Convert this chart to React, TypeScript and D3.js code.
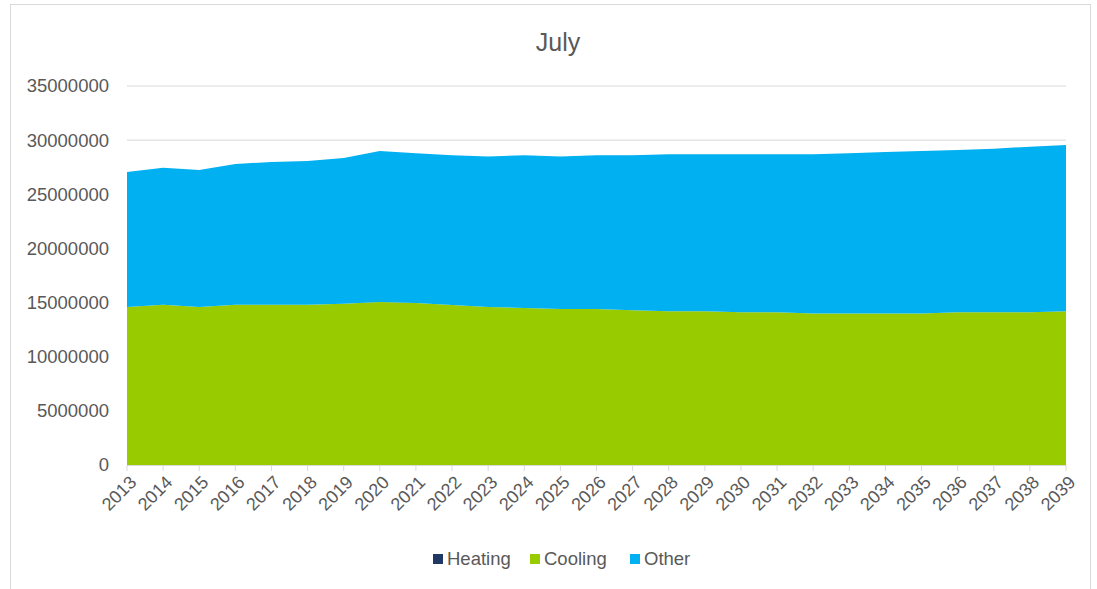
import React, { useEffect, useRef } from 'react';
import * as d3 from 'd3';

const years = [2013, 2014, 2015, 2016, 2017, 2018, 2019, 2020, 2021, 2022, 2023, 2024, 2025, 2026,
  2027, 2028, 2029, 2030, 2031, 2032, 2033, 2034, 2035, 2036, 2037, 2038, 2039];
const heating = [0, 0, 0, 0, 0, 0, 0, 0, 0, 0, 0, 0, 0, 0, 0, 0, 0, 0, 0, 0, 0, 0, 0, 0, 0, 0, 0];
const cooling = [14600000, 14800000, 14600000, 14800000, 14800000, 14800000, 14900000, 15050000, 14950000,
  14780000, 14600000, 14500000, 14400000, 14400000, 14300000, 14200000, 14200000, 14100000, 14100000,
  14000000, 14000000, 14000000, 14000000, 14100000, 14100000, 14100000, 14200000];
const other = [12450000, 12650000, 12650000, 13000000, 13180000, 13270000, 13450000, 13950000, 13850000,
  13820000, 13900000, 14100000, 14100000, 14200000, 14300000, 14500000, 14500000, 14600000, 14600000,
  14700000, 14800000, 14900000, 15000000, 15000000, 15100000, 15300000, 15350000];
const yTicks = [0, 5000000, 10000000, 15000000, 20000000, 25000000, 30000000, 35000000];

const keys = ['heating', 'cooling', 'other'];
const labels = { heating: 'Heating', cooling: 'Cooling', other: 'Other' };
const colors = { heating: '#1f3864', cooling: '#99cc00', other: '#00b0f0' };

const App = () => {
  const svgRef = useRef(null);

  useEffect(() => {
    const W = 1097, H = 589;
    const svg = d3.select(svgRef.current);
    svg.selectAll('*').remove();
    svg.attr('width', W).attr('height', H);

    const font = '"Liberation Sans", Arial, sans-serif';
    const textColor = '#595959';

    // cadre
    svg.append('rect').attr('x', 10.5).attr('y', 4.5).attr('width', 1080).attr('height', 600)
      .attr('fill', 'white').attr('stroke', '#d9d9d9');

    const rows = years.map((y, i) => ({ year: y, heating: heating[i], cooling: cooling[i], other: other[i] }));
    const stacked = d3.stack().keys(keys)(rows);

    const x = d3.scaleLinear().domain([2013, 2039]).range([127, 1066]);
    const y = d3.scaleLinear().domain([0, 35000000]).range([465, 86]);

    // gridlines
    svg.append('g').selectAll('line').data(yTicks.slice(1)).enter().append('line')
      .attr('x1', 127).attr('x2', 1066)
      .attr('y1', d => y(d)).attr('y2', d => y(d))
      .attr('stroke', '#d9d9d9').attr('stroke-width', 1);

    const area = d3.area()
      .x(d => x(d.data.year))
      .y0(d => y(d[0]))
      .y1(d => y(d[1]));

    svg.append('g').selectAll('path').data(stacked).enter().append('path')
      .attr('d', area)
      .attr('fill', d => colors[d.key]);

    // y labels
    svg.append('g').selectAll('text').data(yTicks).enter().append('text')
      .attr('x', 109).attr('y', d => y(d)).attr('dy', '0.35em')
      .attr('text-anchor', 'end').attr('font-family', font).attr('font-size', 18.5)
      .attr('fill', textColor).text(d => d);

    // x axis
    const xAxis = svg.append('g');
    xAxis.append('line').attr('x1', 127).attr('x2', 1066).attr('y1', 465.5).attr('y2', 465.5)
      .attr('stroke', '#d9d9d9');
    xAxis.selectAll('line.tick').data(years).enter().append('line')
      .attr('class', 'tick')
      .attr('x1', d => x(d)).attr('x2', d => x(d)).attr('y1', 465).attr('y2', 471)
      .attr('stroke', '#d9d9d9');
    xAxis.selectAll('text').data(years).enter().append('text')
      .attr('transform', d => `translate(${x(d) + 6},${479}) rotate(-45)`)
      .attr('text-anchor', 'end').attr('dy', '0.35em')
      .attr('font-family', font).attr('font-size', 18).attr('fill', textColor)
      .text(d => d);

    // titre
    svg.append('text').attr('x', 558).attr('y', 51).attr('text-anchor', 'middle')
      .attr('font-family', font).attr('font-size', 25).attr('fill', textColor).text('July');

    // légende
    const legendX = [433, 530, 630];
    const legend = svg.append('g');
    keys.forEach((k, i) => {
      const g = legend.append('g').attr('transform', `translate(${legendX[i]},559)`);
      g.append('rect').attr('x', 0).attr('y', -5).attr('width', 10).attr('height', 10).attr('fill', colors[k]);
      g.append('text').attr('x', 14).attr('y', 0).attr('dy', '0.35em')
        .attr('font-family', font).attr('font-size', 18.5).attr('fill', textColor).text(labels[k]);
    });
  }, []);

  return (
    <div style={{ position: 'absolute', left: 0, top: 0 }}>
      <svg ref={svgRef} style={{ display: 'block' }}></svg>
    </div>
  );
};

export default App;
